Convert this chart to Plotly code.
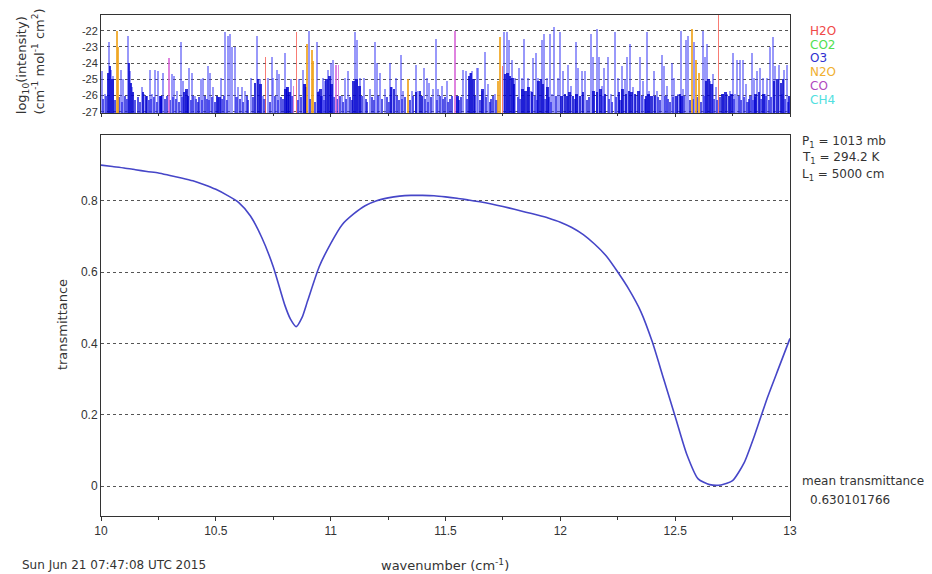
import plotly.graph_objects as go

# ---------------- data ----------------
# stick spectrum: (wavenumber cm^-1, log10 intensity)
o3_wn = [10.006, 10.017, 10.035, 10.044, 10.054, 10.087, 10.097, 10.119, 10.126, 10.134,
         10.177, 10.189, 10.213, 10.224, 10.235, 10.250, 10.264, 10.271, 10.308, 10.319,
         10.330, 10.348, 10.358, 10.369, 10.383, 10.395, 10.409, 10.435, 10.445, 10.465,
         10.475, 10.489, 10.511, 10.522, 10.540, 10.552, 10.562, 10.572, 10.583, 10.598,
         10.613, 10.627, 10.653, 10.678, 10.692, 10.707, 10.728, 10.743, 10.750, 10.765,
         10.776, 10.801, 10.808, 10.826, 10.864, 10.881, 10.888, 10.907, 10.939, 10.951,
         10.965, 10.975, 10.990, 11.000, 11.009, 11.048, 11.062, 11.077, 11.106, 11.116,
         11.128, 11.145, 11.171, 11.193, 11.203, 11.215, 11.237, 11.258, 11.268, 11.284,
         11.305, 11.316, 11.353, 11.370, 11.382, 11.406, 11.418, 11.430, 11.447, 11.457,
         11.469, 11.483, 11.505, 11.549, 11.578, 11.588, 11.607, 11.617, 11.636, 11.643,
         11.658, 11.672, 11.684, 11.715, 11.756, 11.766, 11.776, 11.788, 11.803, 11.820,
         11.832, 11.843, 11.858, 11.872, 11.882, 11.893, 11.904, 11.919, 11.930, 11.941,
         11.955, 11.965, 11.974, 11.991, 12.000, 12.013, 12.035, 12.046, 12.067, 12.078,
         12.093, 12.107, 12.132, 12.143, 12.158, 12.168, 12.180, 12.191, 12.206, 12.219,
         12.238, 12.250, 12.267, 12.282, 12.292, 12.303, 12.315, 12.329, 12.347, 12.361,
         12.376, 12.387, 12.408, 12.419, 12.441, 12.451, 12.463, 12.485, 12.495, 12.514,
         12.524, 12.533, 12.547, 12.557, 12.582, 12.620, 12.631, 12.640, 12.652, 12.666,
         12.678, 12.710, 12.727, 12.739, 12.750, 12.761, 12.771, 12.782, 12.794, 12.808,
         12.833, 12.843, 12.855, 12.869, 12.881, 12.891, 12.901, 12.913, 12.925, 12.935,
         12.953, 12.964, 12.974, 12.986]
o3_logI = [-24.5, -25.9, -22.7, -24.4, -24.8, -24.4, -25.0, -22.3, -24.5, -25.5,
           -25.5, -25.9, -24.4, -25.9, -24.4, -24.5, -26.0, -24.6, -24.7, -24.8,
           -25.7, -22.7, -25.1, -25.7, -24.3, -24.6, -26.0, -25.0, -24.9, -24.2,
           -24.6, -25.5, -26.1, -24.9, -22.05, -22.3, -22.2, -23.0, -23.0, -25.5,
           -25.5, -25.7, -24.9, -22.3, -25.0, -26.0, -24.9, -23.6, -24.9, -24.4,
           -24.7, -23.4, -25.5, -25.0, -25.0, -24.4, -25.3, -22.0, -22.7, -25.7,
           -24.9, -25.1, -24.4, -24.0, -23.8, -26.0, -24.9, -24.5, -22.1, -22.6,
           -24.9, -24.9, -25.6, -22.7, -24.0, -24.6, -25.6, -24.0, -25.5, -24.9,
           -23.5, -25.7, -25.7, -24.1, -25.7, -24.3, -24.9, -25.2, -25.6, -22.5,
           -25.6, -25.4, -25.1, -26.1, -24.4, -24.5, -24.6, -24.5, -24.3, -24.3,
           -25.7, -23.3, -25.3, -25.9, -22.1, -22.1, -22.6, -23.8, -24.9, -24.3,
           -24.9, -22.5, -24.9, -25.7, -23.7, -23.4, -24.9, -22.6, -22.2, -24.9,
           -22.2, -25.9, -21.8, -24.9, -22.1, -24.5, -24.1, -25.4, -22.7, -24.3,
           -24.5, -24.5, -22.2, -23.6, -21.9, -23.6, -25.4, -24.3, -23.6, -25.9,
           -22.1, -24.9, -24.2, -25.0, -23.6, -22.8, -25.5, -26.0, -23.6, -25.1,
           -22.1, -25.7, -24.5, -25.7, -23.5, -24.2, -25.4, -24.0, -24.9, -25.9,
           -22.0, -25.6, -22.6, -22.3, -22.7, -22.0, -23.6, -22.8, -25.1, -24.7,
           -25.5, -25.9, -25.9, -25.7, -23.4, -25.9, -23.8, -23.8, -23.8, -25.3,
           -23.4, -24.9, -24.5, -24.3, -24.9, -25.9, -24.9, -23.0, -22.4, -24.2,
           -24.1, -25.9, -24.4, -24.1]

# weak, densely packed O3 lines
o3_weak_wn = [10.030, 10.040, 10.050, 10.122, 10.130, 10.140, 10.182, 10.195, 10.258, 10.262,
              10.362, 10.372, 10.378, 10.505, 10.515, 10.670, 10.684, 10.695, 10.803, 10.812,
              10.820, 10.885, 10.893, 10.945, 10.955, 10.982, 10.995, 11.003, 11.100, 11.112,
              11.125, 11.262, 11.275, 11.372, 11.388, 11.398, 11.552, 11.603, 11.612, 11.622,
              11.662, 11.760, 11.770, 11.780, 11.792, 11.798, 11.835, 11.848, 11.862, 11.877,
              11.905, 11.915, 11.925, 11.945, 12.005, 12.020, 12.030, 12.040, 12.055, 12.070,
              12.085, 12.098, 12.145, 12.160, 12.175, 12.195, 12.255, 12.270, 12.285, 12.298,
              12.310, 12.325, 12.340, 12.372, 12.385, 12.398, 12.412, 12.505, 12.520, 12.528,
              12.635, 12.645, 12.658, 12.705, 12.720, 12.735, 12.745, 12.850, 12.865, 12.885,
              12.930, 12.945, 12.960, 12.970, 12.995]
o3_weak_logI = [-24.6, -24.2, -25.0, -24.0, -25.2, -25.8, -25.8, -26.0, -26.0, -26.0,
                -25.8, -25.6, -26.0, -26.0, -26.1, -25.2, -25.0, -25.3, -25.6, -25.5,
                -25.8, -25.3, -25.5, -25.8, -25.6, -25.0, -24.8, -25.3, -25.1, -25.0,
                -25.4, -25.5, -25.6, -25.8, -25.7, -26.0, -26.0, -24.8, -24.6, -25.0,
                -25.6, -24.7, -24.6, -24.8, -24.9, -25.3, -25.6, -25.7, -25.5, -25.8,
                -25.1, -25.0, -25.3, -25.5, -26.0, -25.9, -26.0, -25.8, -26.0, -25.9,
                -26.0, -25.8, -25.7, -25.8, -25.6, -25.9, -25.8, -25.6, -25.9, -25.7,
                -25.8, -25.9, -25.7, -26.0, -25.9, -26.0, -26.0, -26.0, -25.9, -26.0,
                -25.1, -25.0, -25.3, -25.9, -25.8, -26.0, -25.9, -25.9, -25.8, -25.9,
                -25.1, -25.0, -25.2, -25.0, -26.0]

# faint background lines filling the bottom band
o3_faint_wn = [10.010, 10.022, 10.060, 10.080, 10.092, 10.105, 10.112, 10.150, 10.160, 10.168,
               10.200, 10.207, 10.218, 10.230, 10.242, 10.280, 10.288, 10.300, 10.314, 10.325,
               10.340, 10.352, 10.390, 10.400, 10.415, 10.422, 10.428, 10.440, 10.452, 10.460,
               10.470, 10.482, 10.495, 10.528, 10.535, 10.547, 10.590, 10.605, 10.620, 10.635,
               10.642, 10.660, 10.712, 10.735, 10.758, 10.770, 10.785, 10.792, 10.832, 10.858,
               10.870, 10.912, 10.930, 10.960, 10.970, 11.015, 11.028, 11.040, 11.055, 11.068,
               11.085, 11.092, 11.135, 11.152, 11.160, 11.180, 11.187, 11.208, 11.225, 11.245,
               11.252, 11.290, 11.298, 11.310, 11.325, 11.345, 11.360, 11.412, 11.424, 11.437,
               11.462, 11.475, 11.490, 11.498, 11.512, 11.520, 11.530, 11.560, 11.568, 11.595,
               11.630, 11.650, 11.678, 11.692, 11.700, 11.708, 11.722, 11.815, 11.826, 11.888,
               11.898, 11.935, 11.950, 11.960, 11.982, 12.062, 12.115, 12.125, 12.185, 12.212,
               12.225, 12.244, 12.262, 12.355, 12.368, 12.425, 12.435, 12.458, 12.470, 12.478,
               12.490, 12.540, 12.565, 12.578, 12.595, 12.612, 12.625, 12.670, 12.683, 12.695,
               12.755, 12.778, 12.788, 12.800, 12.815, 12.822, 12.828, 12.838, 12.848, 12.875,
               12.895, 12.908, 12.918, 12.980, 12.990]
o3_faint_logI = [-26.2, -26.0, -26.3, -26.1, -26.4, -26.0, -26.2, -26.3, -26.1, -26.4,
                 -26.0, -26.3, -26.2, -26.1, -26.4, -26.2, -26.0, -26.3, -26.1, -26.2,
                 -26.4, -26.1, -26.3, -26.0, -26.2, -26.4, -26.1, -26.3, -26.0, -26.2,
                 -26.3, -26.1, -26.4, -26.2, -26.0, -26.3, -26.1, -26.2, -26.4, -26.0,
                 -26.3, -26.1, -26.2, -26.4, -26.0, -26.3, -26.1, -26.2, -26.0, -26.3,
                 -26.1, -26.2, -26.4, -26.0, -26.3, -26.1, -26.2, -26.0, -26.4, -26.2,
                 -26.1, -26.3, -26.0, -26.2, -26.4, -26.1, -26.3, -26.0, -26.2, -26.1,
                 -26.4, -26.0, -26.3, -26.2, -26.1, -26.3, -26.0, -26.2, -26.4, -26.1,
                 -26.3, -26.0, -26.2, -26.1, -26.4, -26.2, -26.0, -26.3, -26.1, -26.2,
                 -26.0, -26.3, -26.1, -26.4, -26.2, -26.0, -26.3, -26.1, -26.2, -26.0,
                 -26.3, -26.2, -26.1, -26.4, -26.0, -26.2, -26.3, -26.1, -26.0, -26.2,
                 -26.4, -26.1, -26.3, -26.0, -26.2, -26.1, -26.3, -26.0, -26.2, -26.4,
                 -26.1, -26.0, -26.3, -26.2, -26.1, -26.4, -26.0, -26.2, -26.3, -26.1,
                 -26.2, -26.0, -26.3, -26.1, -26.4, -26.2, -26.0, -26.3, -26.1, -26.2,
                 -26.0, -26.3, -26.1, -26.2, -26.4]

h2o_wn = [10.717, 10.852, 11.747, 12.688]
h2o_logI = [-23.6, -22.1, -24.2, -21.0]

n2o_wn = [10.068, 10.075, 10.898, 10.917, 10.924, 11.338, 11.730, 11.737, 12.572, 12.591, 12.602]
n2o_logI = [-22.0, -23.0, -22.8, -23.2, -23.9, -25.0, -25.1, -22.4, -21.9, -23.8, -24.6]

co_wn = [10.296, 10.837, 11.023, 11.033, 11.541]
co_logI = [-23.7, -25.4, -24.1, -24.1, -22.0]

molecules = ["H2O", "CO2", "O3", "N2O", "CO", "CH4"]

# transmittance curve
trans_wn = [10.00, 10.05, 10.10, 10.15, 10.20, 10.25, 10.30, 10.35, 10.40, 10.45,
            10.50, 10.55, 10.60, 10.65, 10.70, 10.75, 10.80, 10.825, 10.85, 10.875,
            10.90, 10.95, 11.00, 11.05, 11.10, 11.15, 11.20, 11.25, 11.30, 11.35,
            11.40, 11.45, 11.50, 11.55, 11.60, 11.65, 11.70, 11.75, 11.80, 11.85,
            11.90, 11.95, 12.00, 12.05, 12.10, 12.15, 12.20, 12.25, 12.30, 12.35,
            12.40, 12.45, 12.50, 12.55, 12.60, 12.65, 12.70, 12.75, 12.80, 12.85,
            12.90, 12.95, 13.00]
trans_val = [0.900, 0.896, 0.892, 0.887, 0.882, 0.878, 0.871, 0.864, 0.856, 0.845,
             0.832, 0.815, 0.795, 0.758, 0.697, 0.615, 0.508, 0.468, 0.447, 0.472,
             0.520, 0.615, 0.680, 0.733, 0.763, 0.786, 0.800, 0.808, 0.813, 0.815,
             0.815, 0.814, 0.811, 0.807, 0.802, 0.797, 0.791, 0.784, 0.776, 0.768,
             0.760, 0.751, 0.740, 0.725, 0.705, 0.678, 0.645, 0.600, 0.550, 0.490,
             0.405, 0.300, 0.195, 0.090, 0.020, 0.004, 0.003, 0.015, 0.065, 0.150,
             0.245, 0.330, 0.414]

xticks = [10, 10.5, 11, 11.5, 12, 12.5, 13]
xtick_text = ["10", "10.5", "11", "11.5", "12", "12.5", "13"]
top_yticks = [-27, -26, -25, -24, -23, -22]
bot_yticks = [0, 0.2, 0.4, 0.6, 0.8]

params = ["P<sub>1</sub> = 1013 mb", "T<sub>1</sub> = 294.2 K", "L<sub>1</sub> = 5000 cm"]
mean_trans = "0.630101766"
timestamp = "Sun Jun 21 07:47:08 UTC 2015"

# ---------------- figure ----------------
BASE = -27.3
FONT = "Liberation Sans, Arial, sans-serif"
WFONT = "DejaVu Sans, Liberation Sans, sans-serif"
TXT = "#333333"

fig = go.Figure()

def sticks(wn, logi, color, width):
    return go.Bar(x=wn, y=[v - BASE for v in logi], base=BASE, width=width,
                  marker=dict(color=color, line=dict(width=0)),
                  xaxis="x", yaxis="y", showlegend=False, hoverinfo="skip")

fig.add_trace(sticks(o3_faint_wn, o3_faint_logI, "rgba(30,30,220,0.75)", 0.009))
fig.add_trace(sticks(o3_wn, o3_logI, "rgba(70,70,245,0.55)", 0.009))
fig.add_trace(sticks(o3_weak_wn, o3_weak_logI, "rgba(0,0,205,0.8)", 0.011))
fig.add_trace(sticks(n2o_wn, n2o_logI, "rgba(240,165,30,0.85)", 0.008))
fig.add_trace(sticks(co_wn, co_logI, "rgba(215,100,215,0.8)", 0.006))
fig.add_trace(sticks(h2o_wn, h2o_logI, "rgba(245,80,70,0.75)", 0.006))

fig.add_trace(go.Scatter(x=trans_wn, y=trans_val, mode="lines",
                         line=dict(color="#4646c8", width=1.6, shape="spline", smoothing=0.6),
                         xaxis="x2", yaxis="y2", showlegend=False, hoverinfo="skip"))

axis_common = dict(showline=True, linecolor="#333333", linewidth=1, mirror=True)

fig.update_layout(
    width=932, height=574,
    margin=dict(l=101, r=142, t=15, b=58),
    paper_bgcolor="white", plot_bgcolor="white",
    barmode="overlay", bargap=0,
    font=dict(family=FONT, color=TXT),
    xaxis=dict(domain=[0, 1], range=[10, 13], anchor="y", showticklabels=False,
               tickvals=xticks, ticks="outside", ticklen=3, tickcolor="#333",
               minor=dict(dtick=0.25, tick0=10, ticks="outside", ticklen=2, tickcolor="#333"),
               showgrid=False, zeroline=False, **axis_common),
    yaxis=dict(domain=[0.8044, 1.0], range=[-27.08, -21.03], anchor="x",
               tickvals=top_yticks, ticktext=[str(v) for v in top_yticks],
               tickfont=dict(family=FONT, size=11, color=TXT),
               ticks="", showgrid=True, gridcolor="#555555", griddash="dot", gridwidth=1,
               zeroline=False, **axis_common),
    xaxis2=dict(domain=[0, 1], range=[10, 13], anchor="y2",
                tickvals=xticks, ticktext=xtick_text, ticks="outside", ticklen=4, tickcolor="#333",
                tickfont=dict(family=FONT, size=12, color=TXT),
                minor=dict(dtick=0.25, tick0=10, ticks="outside", ticklen=3, tickcolor="#333"),
                showgrid=False, zeroline=False, **axis_common),
    yaxis2=dict(domain=[0, 0.7595], range=[-0.084, 0.983], anchor="x2",
                tickvals=bot_yticks, ticktext=["0", "0.2", "0.4", "0.6", "0.8"],
                tickfont=dict(family=FONT, size=12, color=TXT),
                ticks="", showgrid=True, gridcolor="#555555", griddash="dot", gridwidth=1,
                zeroline=False, **axis_common),
)

def note(text, x, y, size=12, color=TXT, angle=0, xanchor="center"):
    return dict(text=text, x=x, y=y, xref="paper", yref="paper", xanchor=xanchor,
                yanchor="middle", textangle=angle, showarrow=False,
                font=dict(family=WFONT, size=size, color=color))

ann = []
ann.append(note("log<sub>10</sub>(intensity)", -0.1145, 0.900, size=13, angle=-90))
ann.append(note("(cm<sup>-1</sup> mol<sup>-1</sup> cm<sup>2</sup>)", -0.0914, 0.907, size=13, angle=-90))
ann.append(note("transmittance", -0.0566, 0.381, size=13, angle=-90))
ann.append(note("wavenumber (cm<sup>-1</sup>)", 0.499, -0.098, size=13))
ann.append(note(timestamp, -0.1176, -0.098, size=12, xanchor="left"))

legend_colors = ["#f04848", "#50e050", "#3030d0", "#f0b030", "#b048c0", "#50e0e0"]
legend_y = [0.968, 0.941, 0.914, 0.886, 0.858, 0.830]
for name, col, yy in zip(molecules, legend_colors, legend_y):
    ann.append(note(name, 1.026, yy, size=12, color=col, xanchor="left"))

for txt, yy in zip(params, [0.7465, 0.7146, 0.6806]):
    ann.append(note(txt, 1.0145, yy, size=12, xanchor="left"))

ann.append(note("mean transmittance", 1.0145, 0.0699, size=12, xanchor="left"))
ann.append(note(mean_trans, 1.026, 0.0319, size=12, xanchor="left"))

fig.update_layout(annotations=ann)
# remove the browser's default 8px page margin so the 932x574 figure fills the window
fig.write_html("out.html", config={"displayModeBar": False},
               post_script="document.body.style.margin='0px';")
